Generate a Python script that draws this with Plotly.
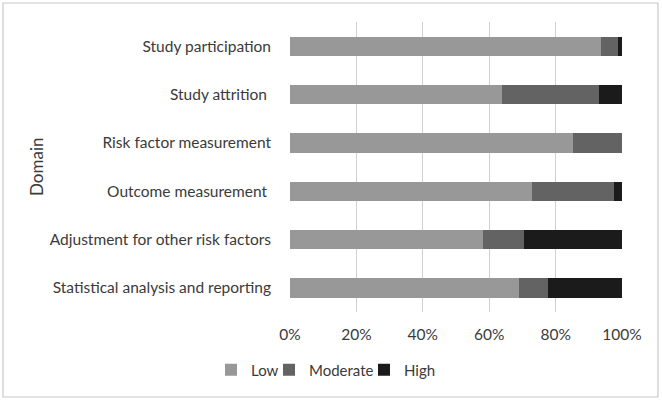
import plotly.graph_objects as go

categories = ["Study participation", "Study attrition ", "Risk factor measurement",
              "Outcome measurement ", "Adjustment for other risk factors",
              "Statistical analysis and reporting"]
low = [93.7, 64.0, 85.1, 72.9, 58.0, 69.1]
moderate = [5.0, 29.1, 14.9, 24.6, 12.4, 8.7]
high = [1.3, 6.9, 0.0, 2.5, 29.6, 22.2]
tick_vals = [0, 20, 40, 60, 80, 100]
tick_text = ["0%", "20%", "40%", "60%", "80%", "100%"]

FONT = "Lato, 'Open Sans', sans-serif"
TXT = "#3a3a3a"

W, H = 662, 400
L, R, T, B = 290, 40, 22, 88
pw, ph = W - L - R, H - T - B

def px(x):
    return (x - L) / pw

def py(y):
    return (H - B - y) / ph

series = [("Low", low, "#989898", "legend", 252),
          ("Moderate", moderate, "#636363", "legend2", 310),
          ("High", high, "#1b1b1b", "legend3", 405)]

fig = go.Figure()
for name, vals, col, leg, _ in series:
    fig.add_trace(go.Bar(y=categories, x=vals, name=name, orientation="h", legend=leg,
                         marker=dict(color=col, line=dict(width=0)), width=0.4))

legend_common = dict(orientation="h", yanchor="middle", y=py(370), xanchor="left",
                     font=dict(size=15, color=TXT), itemwidth=30,
                     bgcolor="rgba(0,0,0,0)", borderwidth=0)
legends = {}
for name, vals, col, leg, text_x in series:
    legends[leg] = dict(legend_common, x=px(text_x - 41))

fig.update_layout(
    template="none",
    width=W, height=H, barmode="stack",
    margin=dict(l=L, r=R, t=T, b=B, pad=0, autoexpand=False),
    paper_bgcolor="white", plot_bgcolor="white",
    font=dict(family=FONT, size=15.5, color=TXT),
    xaxis=dict(range=[0, 100], tickvals=tick_vals, ticktext=tick_text, showgrid=True,
               gridcolor="#d0d0d0", gridwidth=1.2, zeroline=False, showline=False,
               ticks="", ticklabelstandoff=11, tickfont=dict(size=15.5, color=TXT),
               automargin=False, fixedrange=True),
    yaxis=dict(autorange="reversed", showgrid=False, showline=False, ticks="", zeroline=False,
               ticklabelstandoff=18, tickfont=dict(size=15.5, color=TXT), automargin=False),
    bargap=0.6,
    showlegend=True,
    **legends,
)
fig.add_annotation(text="Domain", textangle=-90, xref="paper", yref="paper",
                   x=px(36), y=py(167), showarrow=False, font=dict(size=17, color=TXT),
                   xanchor="center", yanchor="middle")
fig.add_shape(type="rect", xref="paper", yref="paper", x0=px(3), x1=px(658), y0=py(397), y1=py(3),
              line=dict(color="#c8c8c8", width=1.2), layer="below")
fig.write_html("out.html", config={"displayModeBar": False},
               post_script="document.body.style.margin='0px';")
